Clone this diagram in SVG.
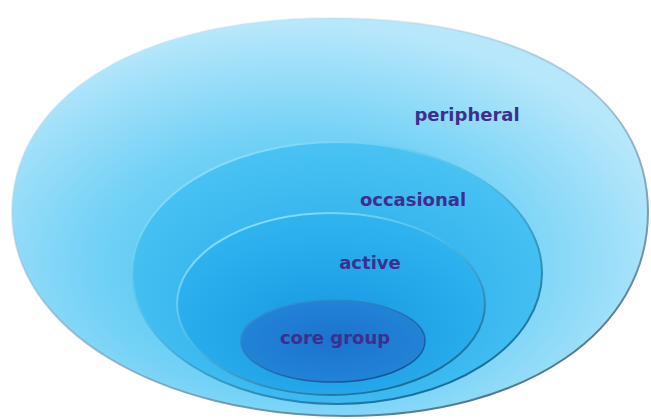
<svg xmlns="http://www.w3.org/2000/svg" width="651" height="419" viewBox="0 0 651 419">
<defs>
<radialGradient id="gOuter" cx="0.45" cy="0.62" r="0.6">
<stop offset="0" stop-color="#3cbcf0"/>
<stop offset="0.55" stop-color="#74d2f6"/>
<stop offset="1" stop-color="#b6e7fb"/>
</radialGradient>
<radialGradient id="gOcc" cx="0.5" cy="0.6" r="0.6">
<stop offset="0" stop-color="#22a8ea"/>
<stop offset="1" stop-color="#4ac3f3"/>
</radialGradient>
<radialGradient id="gAct" cx="0.5" cy="0.65" r="0.6">
<stop offset="0" stop-color="#1696e2"/>
<stop offset="1" stop-color="#2fb3ef"/>
</radialGradient>
<radialGradient id="gCore" cx="0.5" cy="0.5" r="0.6">
<stop offset="0" stop-color="#1b73cd"/>
<stop offset="1" stop-color="#2386d8"/>
</radialGradient>
<linearGradient id="sOuter" x1="0" y1="0" x2="0.7" y2="1">
<stop offset="0" stop-color="#ffffff" stop-opacity="0"/>
<stop offset="0.45" stop-color="#8fb0c4" stop-opacity="0.5"/>
<stop offset="1" stop-color="#4f7690"/>
</linearGradient>
<linearGradient id="sInner" x1="0.1" y1="0" x2="0.8" y2="1">
<stop offset="0" stop-color="#9ae6fc"/>
<stop offset="0.45" stop-color="#4dbdea"/>
<stop offset="1" stop-color="#14628f"/>
</linearGradient>
<linearGradient id="sCore" x1="0" y1="0" x2="0.8" y2="1">
<stop offset="0" stop-color="#3a9be0"/>
<stop offset="1" stop-color="#124f94"/>
</linearGradient>
</defs>
<style>
.lbl{font-family:"DejaVu Sans","Liberation Sans",sans-serif;font-weight:bold;font-size:18px;fill:#3d2e8f;text-anchor:middle}
</style>
<g id="peripheral">
<path d="M12 212 C12 96 139 18 330 18 C527 18 648 92 648 212 C648 330 528 416 345 416 C160 416 12 330 12 212 Z" fill="url(#gOuter)" stroke="url(#sOuter)" stroke-width="2"/>
<text class="lbl" x="467" y="121">peripheral</text>
</g>
<g id="occasional">
<ellipse cx="337" cy="273" rx="205" ry="131" fill="url(#gOcc)" stroke="url(#sInner)" stroke-width="2"/>
<text class="lbl" x="413" y="206">occasional</text>
</g>
<g id="active">
<ellipse cx="331" cy="304" rx="154" ry="91" fill="url(#gAct)" stroke="url(#sInner)" stroke-width="2"/>
<text class="lbl" x="370" y="269">active</text>
</g>
<g id="core">
<ellipse cx="333" cy="341" rx="92" ry="41" fill="url(#gCore)" stroke="url(#sCore)" stroke-width="1.5"/>
<text class="lbl" x="335" y="344" font-size="17">core group</text>
</g>
<g id="connectors"></g>
</svg>
